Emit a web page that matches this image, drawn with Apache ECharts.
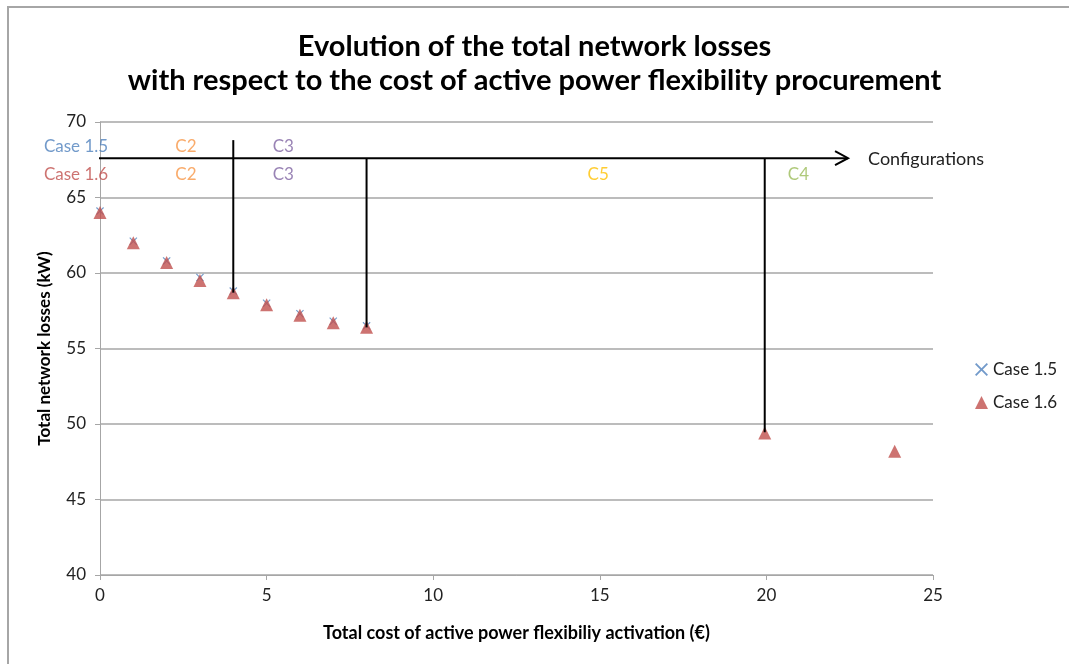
<!DOCTYPE html>
<html>
<head>
<meta charset="utf-8">
<script src="https://cdn.jsdelivr.net/npm/echarts@6/dist/echarts.min.js"></script>
<style>
  html, body { margin: 0; padding: 0; background: #fff; }
  #frame { position: absolute; left: 7px; top: 6px; width: 1069px; height: 664px; border-left: 2px solid #a6a6a6; border-top: 2px solid #a6a6a6; }
  #chart { position: absolute; left: 0; top: 0; width: 1069px; height: 664px; }
</style>
</head>
<body>
<div id="frame"></div>
<div id="chart"></div>
<script>
// ---- data ----
const costCase15 = [0, 1, 2, 3, 4, 5, 6, 7, 8];
const lossCase15 = [64.1, 62.1, 60.8, 59.7, 58.8, 58.0, 57.3, 56.8, 56.5];
const costCase16 = [0, 1, 2, 3, 4, 5, 6, 7, 8, 19.95, 23.85];
const lossCase16 = [64.0, 62.0, 60.7, 59.5, 58.7, 57.9, 57.2, 56.7, 56.4, 49.4, 48.2];

const xTicks = [0, 5, 10, 15, 20, 25];
const yTicks = [40, 45, 50, 55, 60, 65, 70];

// configuration annotations (data units)
const configArrowY = 67.6;
const configArrowX = [-2.1, 22.45];
const configDividers = [[4, 68.8, 58.7], [8, 67.6, 56.4], [19.95, 67.6, 49.45]];
const configRow15 = [['Case 1.5', -0.72, '#4f81bd'], ['C2', 2.58, '#f79646'], ['C3', 5.5, '#8064a2']];
const configRow16 = [['Case 1.6', -0.72, '#c0504d'], ['C2', 2.58, '#f79646'], ['C3', 5.5, '#8064a2'], ['C5', 14.95, '#ffc000'], ['C4', 20.96, '#9bbb59']];
const row15Y = 68.4;
const row16Y = 66.5;

const FONT = 'Lato, "Open Sans", sans-serif';
const xMarker = 'path://M0,1 L1,0 L5,4 L9,0 L10,1 L6,5 L10,9 L9,10 L5,6 L1,10 L0,9 L4,5 Z';

const zip = (a, b) => a.map((v, i) => [v, b[i]]);

const annotationSeries = [];
// horizontal arrow line
annotationSeries.push({
  type: 'line', silent: true, clip: false, symbol: 'none', z: 5,
  lineStyle: { color: '#000', width: 2 },
  data: [[configArrowX[0], configArrowY], [configArrowX[1], configArrowY]]
});
// vertical dividers
configDividers.forEach(d => {
  annotationSeries.push({
    type: 'line', silent: true, clip: false, symbol: 'none', z: 5,
    lineStyle: { color: '#000', width: 2 },
    data: [[d[0], d[1]], [d[0], d[2]]]
  });
});
// text labels
const labelData = [];
configRow15.forEach(r => labelData.push({ value: [r[1], row15Y], name: r[0], label: { color: r[2] } }));
configRow16.forEach(r => labelData.push({ value: [r[1], row16Y], name: r[0], label: { color: r[2] } }));
annotationSeries.push({
  type: 'scatter', silent: true, clip: false, symbolSize: 0, z: 6,
  label: { show: true, position: 'inside', formatter: p => p.name, fontFamily: FONT, fontSize: 17 },
  data: labelData
});

const chart = echarts.init(document.getElementById('chart'));
chart.setOption({
  animation: false,
  title: {
    text: 'Evolution of the total network losses\nwith respect to the cost of active power flexibility procurement',
    left: 'center', top: 25,
    textStyle: { fontFamily: FONT, fontWeight: 'bold', fontSize: 29, color: '#000', lineHeight: 34 }
  },
  legend: {
    orient: 'vertical', left: 970, top: 356, itemGap: 16, itemWidth: 13, itemHeight: 13,
    textStyle: { fontFamily: FONT, fontSize: 17, color: '#222' },
    data: [
      { name: 'Case 1.5', icon: xMarker, itemStyle: { color: '#4f81bd' } },
      { name: 'Case 1.6', icon: 'triangle', itemStyle: { color: '#c0504d' } }
    ]
  },
  grid: { left: 100, right: 136, top: 122, bottom: 89, containLabel: false },
  xAxis: {
    type: 'value', min: 0, max: 25, interval: 5,
    name: 'Total cost of active power flexibiliy activation (€)',
    nameLocation: 'middle', nameGap: 49,
    nameTextStyle: { fontFamily: FONT, fontWeight: 'bold', fontSize: 18, color: '#000' },
    axisLine: { show: true, lineStyle: { color: '#a6a6a6', width: 1 } },
    axisTick: { show: true, length: 5, lineStyle: { color: '#a6a6a6' } },
    axisLabel: { fontFamily: FONT, fontSize: 17, color: '#222', margin: 12,
      formatter: v => xTicks.includes(v) ? String(v) : '' },
    splitLine: { show: false }
  },
  yAxis: {
    type: 'value', min: 40, max: 70, interval: 5,
    name: 'Total network losses (kW)',
    nameLocation: 'middle', nameGap: 47, nameRotate: 90,
    nameTextStyle: { fontFamily: FONT, fontWeight: 'bold', fontSize: 17, color: '#000' },
    axisLine: { show: true, lineStyle: { color: '#a6a6a6', width: 1 } },
    axisTick: { show: true, length: 5, lineStyle: { color: '#a6a6a6' } },
    axisLabel: { fontFamily: FONT, fontSize: 17, color: '#222', margin: 14,
      formatter: v => yTicks.includes(v) ? String(v) : '' },
    splitLine: { show: true, lineStyle: { color: '#a6a6a6', width: 1.5 } }
  },
  series: [
    {
      name: 'Case 1.5', type: 'scatter', symbol: xMarker, symbolSize: 8, z: 3,
      itemStyle: { color: '#4f81bd' },
      data: zip(costCase15, lossCase15)
    },
    {
      name: 'Case 1.6', type: 'scatter', symbol: 'triangle', symbolSize: 13, z: 4,
      itemStyle: { color: '#c0504d' },
      data: zip(costCase16, lossCase16)
    },
    ...annotationSeries
  ]
});

// arrow head + "Configurations" text placed from data coordinates
const tip = chart.convertToPixel({ gridIndex: 0 }, [configArrowX[1], configArrowY]);
chart.setOption({
  graphic: [
    { type: 'polyline', silent: true, z: 10,
      shape: { points: [[tip[0] - 13, tip[1] - 7], [tip[0], tip[1]], [tip[0] - 13, tip[1] + 7]] },
      style: { stroke: '#000', lineWidth: 2, fill: null } },
    { type: 'text', silent: true, z: 10, x: tip[0] + 20, y: tip[1] + 1,
      style: { text: 'Configurations', fontFamily: FONT, fontSize: 18, fill: '#222', textVerticalAlign: 'middle' } }
  ]
});
</script>
</body>
</html>
